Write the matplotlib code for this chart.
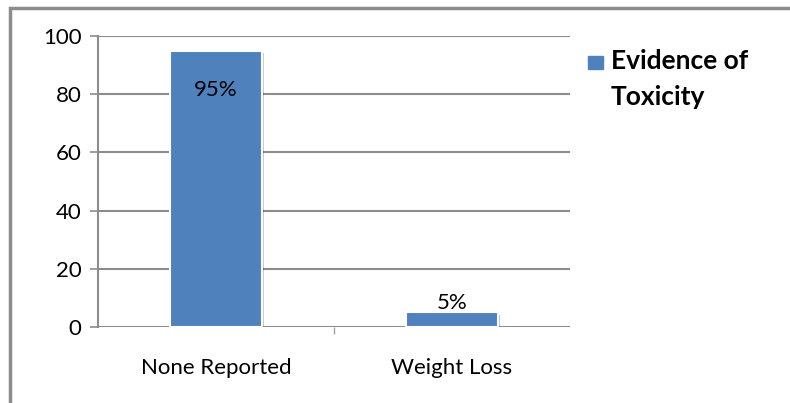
import matplotlib.pyplot as plt
import matplotlib.patheffects as pe
from matplotlib.patches import Rectangle

categories = ['None Reported', 'Weight Loss']
values = [95, 5]
labels = ['95%', '5%']
series_name = 'Evidence of\nToxicity'

plt.rcParams['font.family'] = ['Lato', 'DejaVu Sans']

fig = plt.figure(figsize=(7.9, 4.03), dpi=100)
# outer chart frame
fig.patches.append(Rectangle((10 / 790, -0.1), 1.1, 1 - 8 / 403 + 0.1,
                             transform=fig.transFigure, fill=False,
                             edgecolor='#8c8c8c', linewidth=2.5))

ax = fig.add_axes([98 / 790, 1 - 327 / 403, 472 / 790, 291 / 403])
x = range(len(categories))
bars = ax.bar(x, values, width=0.39, color='#4F81BD', edgecolor='white',
              linewidth=1.5, zorder=3)
for b in bars:
    b.set_path_effects([pe.SimplePatchShadow(offset=(1.5, -1.5), alpha=0.25),
                        pe.Normal()])

ax.set_xlim(-0.5, 1.5)
ax.set_ylim(0, 100)
ax.set_yticks(range(0, 101, 20))
ax.yaxis.grid(True, color='#8c8c8c', linewidth=1.5, zorder=0)
ax.set_xticks(x)
ax.set_xticklabels(categories)
ax.tick_params(axis='x', length=0, pad=22, labelsize=16)
ax.tick_params(axis='y', length=6, color='#8c8c8c', width=1.2, labelsize=16, pad=6)
ax.set_xticks([0.5], minor=True)
ax.tick_params(axis='x', which='minor', length=5, color='#a0a0a0', width=1)
for s in ['top', 'right', 'bottom']:
    ax.spines[s].set_visible(False)
ax.spines['left'].set_color('#8c8c8c')
ax.spines['left'].set_linewidth(1.5)

# value labels: inside the tall bar, above the short one
ax.text(0, values[0] - 13.5, labels[0], ha='center', va='center', fontsize=16)
ax.text(1, values[1] + 3.2, labels[1], ha='center', va='center', fontsize=16)

# legend key and series name
fig.patches.append(Rectangle((588 / 790, 1 - 69 / 403), 15 / 790, 13 / 403,
                             transform=fig.transFigure, color='#4F81BD'))
fig.text(611 / 790, 1 - 49 / 403, series_name, ha='left', va='top',
         fontsize=19, fontweight='bold', linespacing=1.6)

fig.savefig('out.png', dpi=100)
